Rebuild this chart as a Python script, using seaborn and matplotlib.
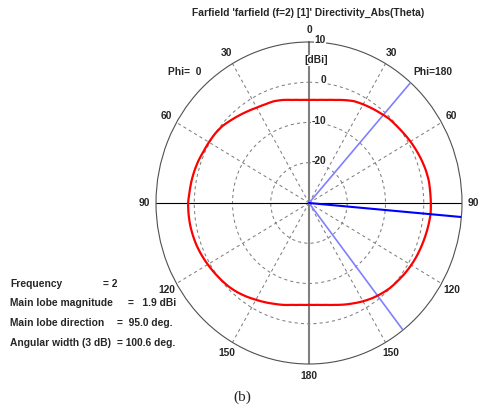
import numpy as np
import pandas as pd
import matplotlib
matplotlib.use("Agg")
import matplotlib.pyplot as plt
import seaborn as sns

# ---- data ----
theta_deg = list(range(0, 181, 5))
dir_phi180 = [-4.4, -4.3, -4.0, -3.5, -2.8, -2.1, -1.7, -1.3, -0.9, -0.4, -0.15, 0.2, 0.6,
              0.95, 1.3, 1.6, 1.8, 1.8, 1.85, 1.9, 1.7, 1.5, 1.3, 1.1, 0.85, 0.55, 0.2, -0.1,
              -0.6, -1.15, -1.8, -2.5, -3.15, -3.8, -4.3, -4.6, -4.7]
dir_phi0 = [-4.4, -4.3, -4.0, -3.5, -3.1, -2.95, -2.65, -2.15, -1.6, -1.0, -0.35, 0.0, 0.2,
            0.4, 0.75, 1.0, 1.2, 1.35, 1.6, 1.6, 1.55, 1.4, 1.2, 0.9, 0.55, 0.2, -0.15, -0.5,
            -1.0, -1.6, -2.25, -2.8, -3.35, -3.8, -4.3, -4.6, -4.7]
main_lobe_dir = 95.0
beam_edges = [41.6, 142.1]
r_ticks = [10, 0, -10, -20]
angle_ticks = [0, 30, 60, 90, 120, 150, 180]
title = "Farfield 'farfield (f=2) [1]' Directivity_Abs(Theta)"
info_labels = ["Frequency", "Main lobe magnitude", "Main lobe direction", "Angular width (3 dB)"]
info_values = ["= 2", "=   1.9 dBi", "=  95.0 deg.", "= 100.6 deg."]

sns.set_style("white")
plt.rcParams['font.family'] = ['Liberation Sans Narrow', 'Liberation Sans', 'DejaVu Sans']

W, H = 479, 411
fig = plt.figure(figsize=(W / 100, H / 100), dpi=100)
ax = fig.add_axes([156 / W, 47 / H, 306 / W, 322 / H], projection='polar')
ax.set_theta_zero_location('N')
ax.set_theta_direction(-1)
ax.set_rlim(-30, 10)
ax.set_aspect('auto')

gcol = '#808080'
ax.set_yticks([-20, -10, 0])
ax.set_yticklabels([])
ax.set_xticks(np.deg2rad([30, 60, 120, 150, 210, 240, 300, 330]))
ax.set_xticklabels([])
ax.grid(True, color=gcol, ls=(0, (3, 3)), lw=0.75)
ax.spines['polar'].set_color('#505050')
ax.spines['polar'].set_linewidth(0.8)

# axis lines
for a in [0, 180]:
    ax.plot([np.deg2rad(a)] * 2, [-30, 10], color=gcol, lw=1.5, zorder=2)
for a in [90, 270]:
    ax.plot([np.deg2rad(a)] * 2, [-30, 10], color='black', lw=0.8, zorder=2)

# pattern curve: Phi=180 on the right, Phi=0 on the left
ang = [np.deg2rad(t) for t in theta_deg] + [np.deg2rad(360 - t) for t in theta_deg[::-1]]
val = dir_phi180 + dir_phi0[::-1]
df = pd.DataFrame({'theta': ang, 'dBi': val})
sns.lineplot(data=df, x='theta', y='dBi', sort=False, estimator=None, color='#ff0000', lw=1.6, ax=ax, zorder=4)
ax.lines[-1]._path._interpolation_steps = 6
ax.set_xlabel('')
ax.set_ylabel('')

for e in beam_edges:
    ax.plot([np.deg2rad(e)] * 2, [-30, 10], color='#8080ff', lw=1.2, zorder=3)
ax.plot([np.deg2rad(main_lobe_dir)] * 2, [-30, 10], color='#0000ff', lw=1.5, zorder=5)

tfs = 7.4
# angle labels
for t in angle_ticks:
    for a in ({t, 360 - t} if t not in (0, 180) else {t}):
        ax.text(np.deg2rad(a), 13, str(t), ha='center', va='center', fontsize=tfs,
                fontweight='bold', clip_on=False)
# radial labels
for r in r_ticks:
    ax.annotate(str(r), xy=(0, r), xytext=(17, 2), textcoords='offset pixels', ha='right',
                va='center', fontsize=tfs, fontweight='bold',
                bbox=dict(fc='white', ec='none', pad=0.3), zorder=6)
ax.annotate('[dBi]', xy=(0, 5.5), xytext=(7, 0), textcoords='offset pixels', ha='center',
            va='center', fontsize=tfs, fontweight='bold',
            bbox=dict(fc='white', ec='none', pad=0.3), zorder=6)
ax.text(np.deg2rad(-45), 15.9, 'Phi=  0', ha='center', va='center', fontsize=tfs, fontweight='bold', clip_on=False)
ax.text(np.deg2rad(45), 15.9, 'Phi=180', ha='center', va='center', fontsize=tfs, fontweight='bold', clip_on=False)

fig.text(308 / W, 1 - 13 / H, title, ha='center', va='center', fontsize=tfs, fontweight='bold')

ys = [284, 303, 323, 343]
xs = [103, 128, 117, 117]
for lab, v, y, x in zip(info_labels, info_values, ys, xs):
    fig.text(10 / W, 1 - y / H, lab, ha='left', va='center', fontsize=tfs, fontweight='bold')
    fig.text(x / W, 1 - y / H, v, ha='left', va='center', fontsize=tfs, fontweight='bold')

fig.text(242 / W, 1 - 397 / H, '(b)', ha='center', va='center', fontsize=11, family='Liberation Serif')

fig.savefig('out.png', dpi=100)
